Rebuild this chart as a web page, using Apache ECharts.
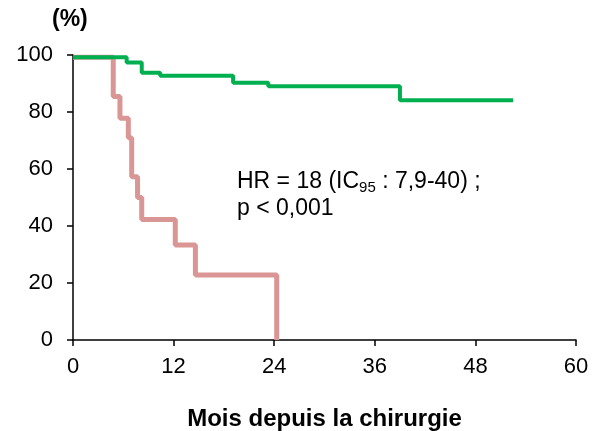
<!DOCTYPE html>
<html>
<head>
<meta charset="utf-8">
<script src="https://cdn.jsdelivr.net/npm/echarts@6/dist/echarts.min.js"></script>
<style>
  html, body { margin: 0; padding: 0; background: #fff; }
  #chart { width: 594px; height: 431px; }
</style>
</head>
<body>
<div id="chart"></div>
<script>
// survie (%) par mois, courbes de Kaplan-Meier
const greenCurve = [
  [0, 99.2], [6.4, 97.4], [8.2, 93.8], [10.4, 92.7], [19.1, 90.3],
  [23.3, 89.0], [39.0, 84.1], [52.5, 84.1]
];
const pinkCurve = [
  [0, 99.2], [4.8, 85.4], [5.6, 77.8], [6.6, 71.0], [7.0, 57.3],
  [7.7, 50.0], [8.2, 42.3], [12.2, 33.3], [14.6, 22.8], [24.3, 0]
];
const xTicks = [0, 12, 24, 36, 48, 60];
const yTicks = [0, 20, 40, 60, 80, 100];

const chart = echarts.init(document.getElementById('chart'));
const font = 'Liberation Sans, Arial, sans-serif';

chart.setOption({
  animation: false,
  grid: { left: 73, right: 18, top: 55, bottom: 91, outerBoundsMode: 'none' },
  xAxis: {
    type: 'value',
    min: xTicks[0],
    max: xTicks[xTicks.length - 1],
    interval: 12,
    name: 'Mois depuis la chirurgie',
    nameLocation: 'middle',
    nameGap: 67,
    nameTextStyle: { color: '#000', fontSize: 24, fontWeight: 'bold', fontFamily: font },
    axisLine: { lineStyle: { color: '#000', width: 1.5 } },
    axisTick: { show: true, length: 6, lineStyle: { color: '#000', width: 1.5 } },
    axisLabel: { color: '#000', fontSize: 22, fontFamily: font, margin: 16 },
    splitLine: { show: false }
  },
  yAxis: {
    type: 'value',
    min: yTicks[0],
    max: yTicks[yTicks.length - 1],
    interval: 20,
    axisLine: { show: true, lineStyle: { color: '#000', width: 1.5 } },
    axisTick: { show: true, length: 6, lineStyle: { color: '#000', width: 1.5 } },
    axisLabel: { color: '#000', fontSize: 22, fontFamily: font, margin: 20 },
    splitLine: { show: false }
  },
  graphic: [
    {
      type: 'text', left: 52, top: 8,
      style: { text: '(%)', fill: '#000', font: 'bold 23px ' + font }
    },
    {
      type: 'text', left: 237, top: 170,
      style: {
        text: '{a|HR = 18 (IC}{s|95}{a| : 7,9-40) ;}\n{a|p < 0,001}',
        fill: '#000',
        rich: {
          a: { fontSize: 23, fontFamily: font, lineHeight: 27, fill: '#000', verticalAlign: 'middle' },
          s: { fontSize: 15, fontFamily: font, lineHeight: 27, fill: '#000', verticalAlign: 'bottom' }
        }
      }
    }
  ],
  series: [
    {
      type: 'line',
      step: 'end',
      data: greenCurve,
      symbol: 'none',
      lineStyle: { color: '#00B050', width: 4 },
      z: 3
    },
    {
      type: 'line',
      step: 'end',
      data: pinkCurve,
      symbol: 'none',
      lineStyle: { color: '#D99694', width: 5 },
      z: 2
    }
  ]
});
</script>
</body>
</html>
